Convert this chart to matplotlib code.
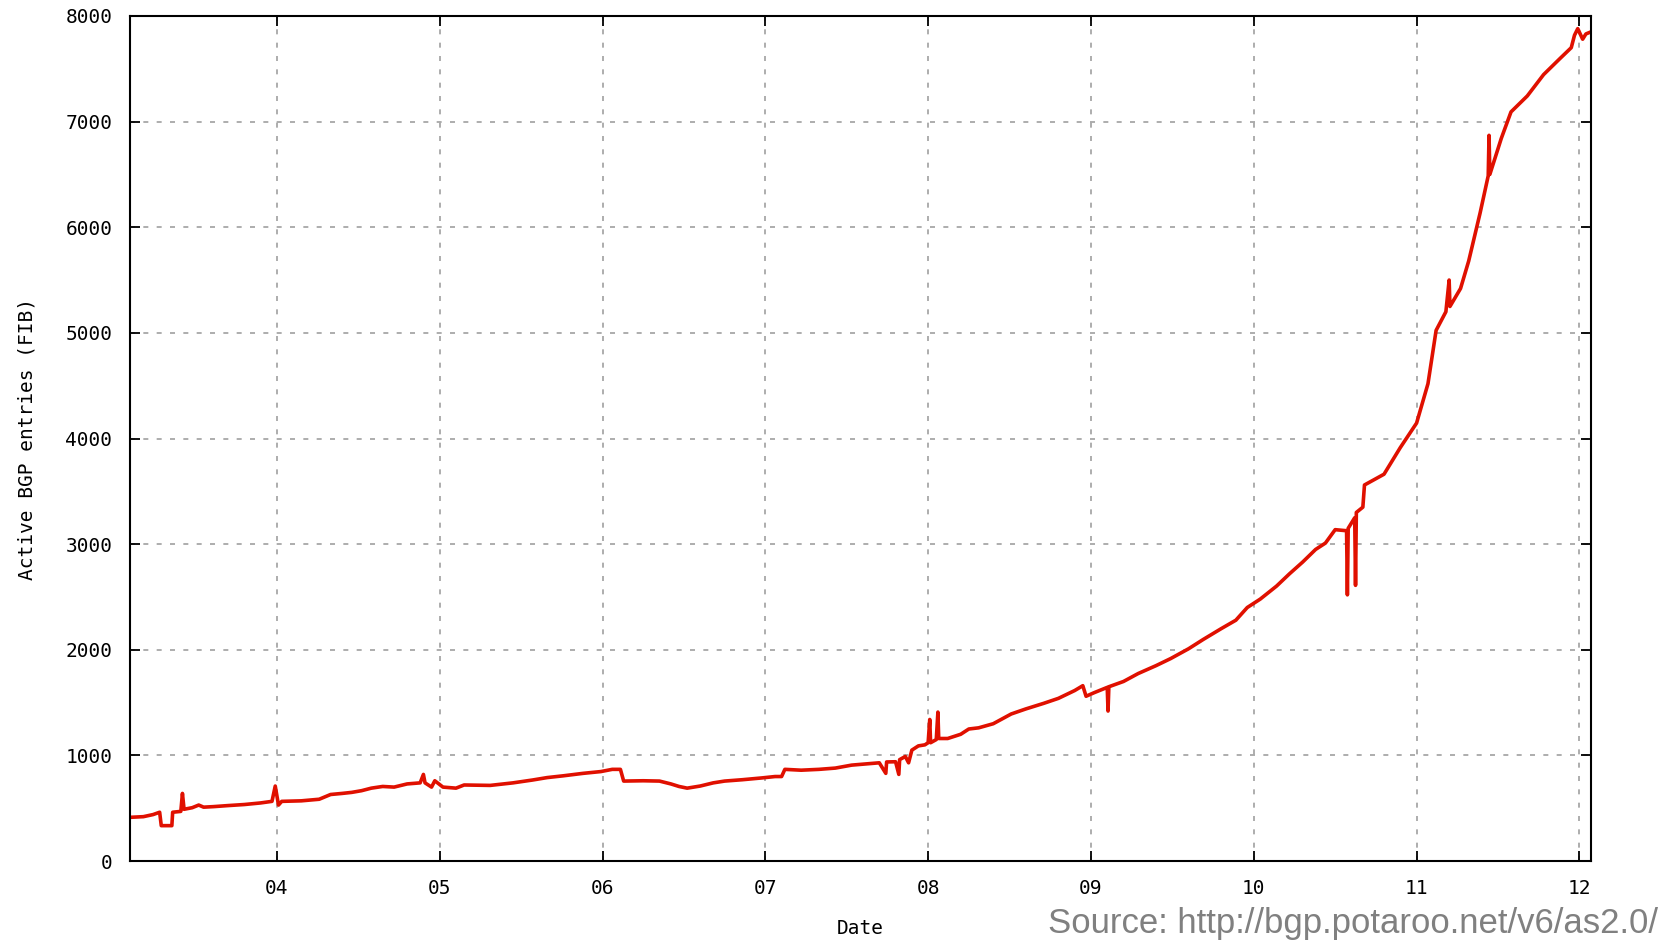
import matplotlib
matplotlib.use("Agg")
import matplotlib.pyplot as plt

# Active BGP FIB entries (decimal year, count).
dates = [
    2003.10, 2003.18, 2003.24, 2003.28, 2003.29, 2003.31, 2003.355, 2003.36, 2003.41,
    2003.42, 2003.43, 2003.48, 2003.52, 2003.55, 2003.61, 2003.70, 2003.80, 2003.90,
    2003.97, 2003.99, 2004.01, 2004.03, 2004.15, 2004.26, 2004.33, 2004.40, 2004.46,
    2004.52, 2004.58, 2004.65, 2004.72, 2004.80, 2004.88, 2004.90, 2004.91, 2004.95,
    2004.97, 2005.02, 2005.10, 2005.15, 2005.31, 2005.45, 2005.57, 2005.66, 2005.76,
    2005.88, 2005.99, 2006.06, 2006.11, 2006.13, 2006.25, 2006.35, 2006.42, 2006.47,
    2006.52, 2006.60, 2006.68, 2006.75, 2006.86, 2006.98, 2007.06, 2007.10, 2007.12,
    2007.22, 2007.33, 2007.43, 2007.53, 2007.62, 2007.70, 2007.74, 2007.745, 2007.80,
    2007.82, 2007.825, 2007.86, 2007.88, 2007.90, 2007.94, 2007.98, 2008.00, 2008.01,
    2008.015, 2008.05, 2008.06, 2008.065, 2008.12, 2008.20, 2008.25, 2008.31, 2008.40,
    2008.51, 2008.60, 2008.71, 2008.80, 2008.90, 2008.95, 2008.97, 2009.02, 2009.10,
    2009.105, 2009.11, 2009.20, 2009.29, 2009.40, 2009.49, 2009.60, 2009.69, 2009.80,
    2009.89, 2009.96, 2010.04, 2010.14, 2010.22, 2010.30, 2010.38, 2010.44, 2010.50,
    2010.57, 2010.575, 2010.58, 2010.62, 2010.625, 2010.63, 2010.67, 2010.68, 2010.75,
    2010.80, 2010.90, 2011.00, 2011.07, 2011.12, 2011.18, 2011.20, 2011.205, 2011.27,
    2011.32, 2011.39, 2011.44, 2011.445, 2011.45, 2011.52, 2011.58, 2011.68, 2011.78,
    2011.88, 2011.95, 2011.97, 2011.99, 2012.02, 2012.04, 2012.07,
]
entries = [
    414, 420, 440, 462, 335, 335, 335, 462, 470,
    640, 490, 505, 530, 510, 515, 525, 535, 550,
    565, 710, 530, 565, 570, 585, 630, 640, 650,
    666, 690, 706, 700, 730, 740, 820, 740, 700,
    760, 700, 690, 720, 716, 740, 767, 790, 807,
    830, 847, 868, 868, 757, 760, 757, 730, 706,
    690, 710, 740, 757, 770, 787, 800, 800, 868,
    860, 868, 880, 908, 920, 930, 830, 938, 940,
    820, 960, 990, 930, 1050, 1090, 1100, 1120, 1340,
    1120, 1150, 1410, 1160, 1160, 1200, 1250, 1261, 1300,
    1392, 1440, 1493, 1540, 1614, 1660, 1560, 1594, 1644,
    1420, 1650, 1700, 1775, 1850, 1917, 2010, 2098, 2200,
    2280, 2400, 2480, 2603, 2720, 2830, 2950, 3010, 3137,
    3127, 2520, 3150, 3250, 2610, 3300, 3350, 3560, 3620,
    3662, 3914, 4146, 4519, 5024, 5200, 5500, 5250, 5420,
    5680, 6134, 6487, 6870, 6500, 6840, 7092, 7243, 7445,
    7596, 7700, 7818, 7880, 7780, 7830, 7849,
]

year_ticks = [2004, 2005, 2006, 2007, 2008, 2009, 2010, 2011, 2012]
year_labels = ["04", "05", "06", "07", "08", "09", "10", "11", "12"]
y_ticks = [0, 1000, 2000, 3000, 4000, 5000, 6000, 7000, 8000]

mono = "DejaVu Sans Mono"

fig = plt.figure(figsize=(16.71, 9.40), dpi=100)
ax = fig.add_axes([0.078, 0.084, 0.874, 0.899])

ax.plot(dates, entries, color="#e01000", linewidth=2.6)

ax.set_xlim(2003.10, 2012.07)
ax.set_ylim(0, 8000)
ax.set_xticks(year_ticks)
ax.set_xticklabels(year_labels)
ax.set_yticks(y_ticks)

ax.grid(True, color="#a0a0a0", linestyle=(0, (3, 5)), linewidth=1.2)
ax.tick_params(direction="in", length=7, width=1.3, top=True, right=True,
               labelsize=14, pad=13, colors="black")
for lab in ax.get_xticklabels() + ax.get_yticklabels():
    lab.set_family(mono)
for spine in ax.spines.values():
    spine.set_linewidth(1.5)

ax.set_xlabel("Date", family=mono, fontsize=14, labelpad=15)
ax.set_ylabel("Active BGP entries (FIB)", family=mono, fontsize=14, labelpad=21)

fig.text(0.992, 0.018, "Source: http://bgp.potaroo.net/v6/as2.0/",
         ha="right", va="center", fontsize=25, color="#808080",
         family="Liberation Sans")

fig.savefig("out.png", dpi=100)
